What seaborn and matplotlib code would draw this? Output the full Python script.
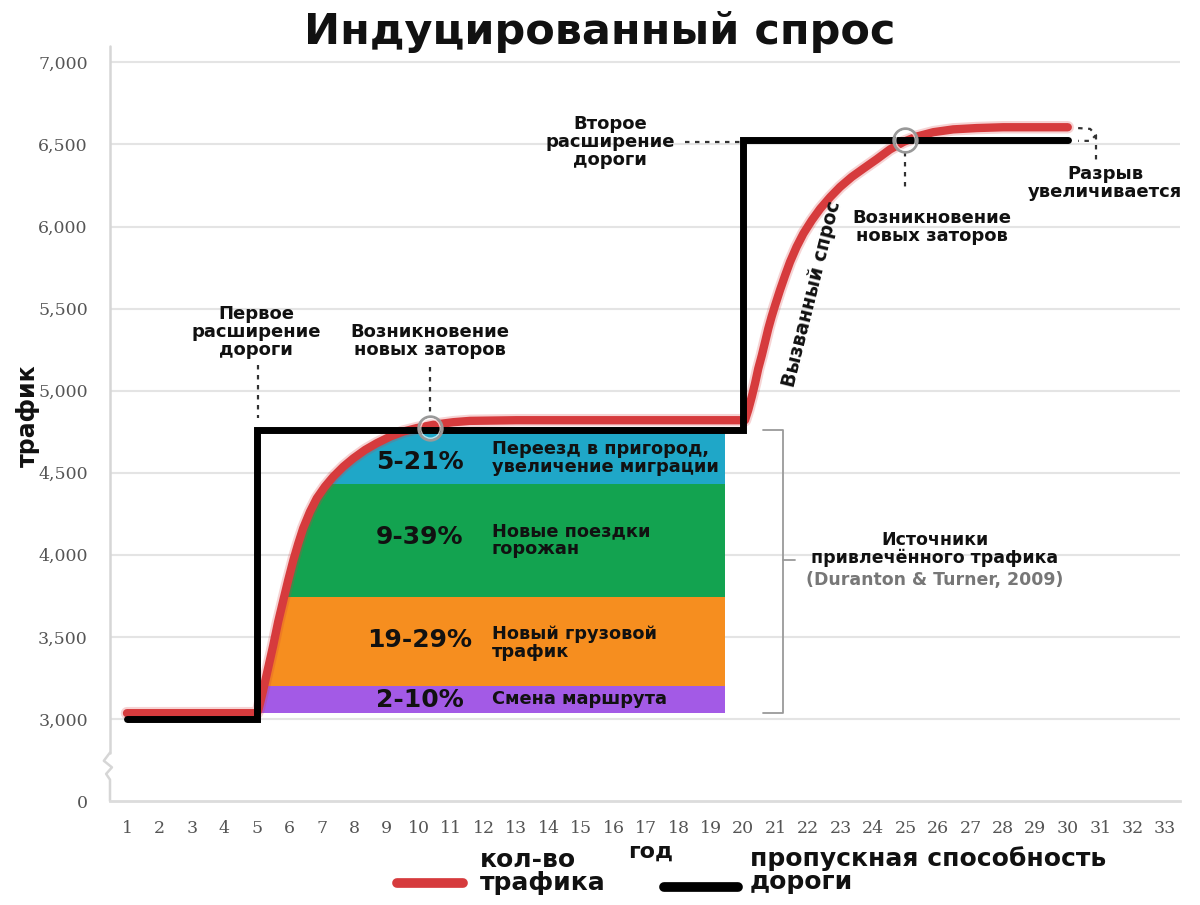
import numpy as np
import pandas as pd
import matplotlib
matplotlib.use("Agg")
import matplotlib.pyplot as plt
import seaborn as sns
from matplotlib.lines import Line2D
from matplotlib.patches import Polygon

# ---------------- data ----------------
traffic_x = [1, 5, 5.05, 5.20, 5.36, 5.51, 5.66, 5.82, 5.97, 6.13, 6.28, 6.43, 6.64, 6.85,
             7.10, 7.36, 7.67, 7.98, 8.34, 8.70, 9.11, 9.52, 9.93, 10.44, 11.06, 11.57,
             13, 20,
             20.05, 20.15, 20.26, 20.36, 20.46, 20.57, 20.67, 20.77, 20.87, 20.98, 21.13,
             21.29, 21.44, 21.64, 21.85, 22.11, 22.37, 22.68, 22.98, 23.34, 23.70, 24.11,
             24.52, 24.93, 25.34, 25.86, 26.47, 27.19, 28.01, 30]
traffic_y = [3035, 3035, 3055, 3177, 3318, 3450, 3592, 3724, 3846, 3968, 4069, 4161, 4262, 4344,
             4415, 4476, 4537, 4588, 4639, 4680, 4720, 4751, 4772, 4792, 4808, 4816,
             4820, 4820,
             4820, 4882, 4963, 5044, 5135, 5216, 5297, 5379, 5450, 5521, 5613,
             5704, 5785, 5876, 5957, 6038, 6109, 6180, 6241, 6302, 6353, 6410,
             6470, 6515, 6548, 6575, 6592, 6600, 6605, 6605]

capacity_x = [1, 5, 5, 20, 20, 30]
capacity_y = [3000, 3000, 4760, 4760, 6525, 6525]

band_lower = [3035, 3200, 3745, 4430]
band_upper = [3200, 3745, 4430, 4780]
band_colors = ["#a35ae6", "#f68e1f", "#13a350", "#1fa7c8"]
band_pct = ["2-10%", "19-29%", "9-39%", "5-21%"]
band_desc = ["Смена маршрута", "Новый грузовой\nтрафик", "Новые поездки\nгорожан",
             "Переезд в пригород,\nувеличение миграции"]
band_x = [5, 19.43]

y_ticks = [2500, 3000, 3500, 4000, 4500, 5000, 5500, 6000, 6500, 7000]
y_ticklabels = ["0", "3,000", "3,500", "4,000", "4,500", "5,000", "5,500", "6,000", "6,500", "7,000"]
x_ticks = list(range(1, 34))

RED = "#d63b3d"
FONT = "DejaVu Sans"

# ---------------- figure ----------------
sns.set_theme(style="white")
plt.rcParams["font.family"] = [FONT]
fig = plt.figure(figsize=(12, 9.05), dpi=100)
ax = fig.add_axes([110/1200, 104/905, 1070/1200, 755/905])
ax.set_xlim(0.476, 33.46)
ax.set_ylim(2500, 7100)

# grid lines
for t in y_ticks[1:]:
    ax.axhline(t, color="#e4e4e4", lw=1.5, zorder=0)

# bands, clipped under the traffic curve
tx = np.array(traffic_x)
ty = np.array(traffic_y)
mask = (tx >= 5) & (tx <= 20)
poly_pts = np.column_stack([tx[mask], ty[mask]])
poly_pts = np.vstack([poly_pts, [[20, 3000], [5, 3000]]])
clip_poly = Polygon(poly_pts, closed=True, transform=ax.transData, facecolor="none", edgecolor="none")
ax.add_patch(clip_poly)
for lo, hi, c in zip(band_lower, band_upper, band_colors):
    coll = ax.fill_between(band_x, [lo, lo], [hi, hi], color=c, lw=0, zorder=1)
    coll.set_clip_path(clip_poly)

# lines
df_t = pd.DataFrame({"x": traffic_x, "y": traffic_y})
df_c = pd.DataFrame({"x": capacity_x, "y": capacity_y})
ax.plot(df_t.x, df_t.y, color=RED, lw=9, alpha=0.22, solid_capstyle="round",
        solid_joinstyle="round", zorder=2)
sns.lineplot(data=df_t, x="x", y="y", ax=ax, color=RED, lw=6, sort=False,
             estimator=None, zorder=3, solid_capstyle="round", solid_joinstyle="round")
sns.lineplot(data=df_c, x="x", y="y", ax=ax, color="black", lw=5, sort=False,
             estimator=None, zorder=4, solid_capstyle="round", solid_joinstyle="miter")

# congestion circles
for cx, cy in [(10.34, 4772), (24.98, 6526)]:
    ax.plot(cx, cy, marker="o", ms=17, mfc="none", mec="#999999", mew=2, zorder=6)
    ax.plot(cx, cy, marker="o", ms=14, mfc="none", mec="white", mew=1, alpha=0.7, zorder=6)

# axes styling
for s in ["top", "right", "left"]:
    ax.spines[s].set_visible(False)
ax.spines["bottom"].set_color("#dcdcdc")
ax.spines["bottom"].set_linewidth(2)
ax.set_yticks(y_ticks)
ax.set_yticklabels(y_ticklabels)
ax.set_xticks(x_ticks)
ax.set_xticklabels([str(v) for v in x_ticks])
ax.tick_params(axis="both", length=0, colors="#555555", labelsize=12.5)
ax.tick_params(axis="x", pad=14)
ax.tick_params(axis="y", pad=16)
for lab in ax.get_xticklabels() + ax.get_yticklabels():
    lab.set_fontfamily("DejaVu Serif")
ax.set_xlabel("")
ax.set_ylabel("")

# left axis with break
spx = 0.476
ax.plot([spx, spx], [2795, 7100], color="#d6d6d6", lw=1.8, clip_on=False, zorder=0)
ax.plot([spx, spx - 0.19, spx + 0.06, spx - 0.12, spx, spx],
        [2795, 2745, 2705, 2665, 2630, 2500], color="#d6d6d6", lw=1.8, clip_on=False, zorder=0)

# band labels
pct_y = [3116, 3481, 4108, 4565]
desc_y = [3122, 3463, 4090, 4589]
for p, d, py, dy in zip(band_pct, band_desc, pct_y, desc_y):
    ax.text(10.03, py, p, ha="center", va="center", fontsize=18, fontweight="bold",
            color="#111111", zorder=7)
    ax.text(12.25, dy, d, ha="left", va="center", fontsize=12.8, fontweight="bold",
            color="#111111", linespacing=1.02, zorder=7)

# bracket
BR = "#9a9a9a"
ax.plot([20.6, 21.22, 21.22, 20.6], [4762, 4762, 3037, 3037], color=BR, lw=1.3, zorder=1)
ax.plot([21.22, 21.59], [3968, 3968], color=BR, lw=1.3, zorder=1)
ax.text(25.9, 4035, "Источники\nпривлечённого трафика", ha="center", va="center",
        fontsize=12.5, fontweight="bold", color="#111111", linespacing=1.0)
ax.text(25.9, 3847, "(Duranton & Turner, 2009)", ha="center", va="center",
        fontsize=12.5, fontweight="bold", color="#777777")

# annotations
DOT = dict(color="#333333", lw=1.6, ls=(0, (2, 2.5)), zorder=5)
ax.text(4.98, 5357, "Первое\nрасширение\nдороги", ha="center", va="center",
        fontsize=13, fontweight="bold", color="#111111", linespacing=1.0)
ax.plot([5.04, 5.04], [5156, 4833], **DOT)
ax.text(10.34, 5302, "Возникновение\nновых заторов", ha="center", va="center",
        fontsize=13, fontweight="bold", color="#111111", linespacing=1.0)
ax.plot([10.34, 10.34], [5144, 4850], **DOT)
ax.text(15.89, 6514, "Второе\nрасширение\nдороги", ha="center", va="center",
        fontsize=13, fontweight="bold", color="#111111", linespacing=1.0)
ax.plot([18.2, 19.9], [6514, 6514], **DOT)
ax.text(22.1, 5590, "Вызванный спрос", ha="center", va="center", rotation=76,
        fontsize=13.5, fontweight="bold", color="#111111")
ax.plot([24.98, 24.98], [6453, 6210], **DOT)
ax.text(25.8, 5996, "Возникновение\nновых заторов", ha="center", va="center",
        fontsize=13, fontweight="bold", color="#111111", linespacing=1.0)
ax.plot([30.32, 30.69, 30.87, 30.69, 30.32], [6600, 6595, 6557, 6522, 6522], **DOT)
ax.plot([30.87, 30.87], [6557, 6404], **DOT)
ax.text(31.15, 6265, "Разрыв\nувеличивается", ha="center", va="center",
        fontsize=13, fontweight="bold", color="#111111", linespacing=1.0)

# title & axis labels
fig.text(0.5, 0.965, "Индуцированный спрос", ha="center", va="center",
         fontsize=31, fontweight="bold", color="#111111")
fig.text(0.023, 0.541, "трафик", ha="center", va="center", rotation=90,
         fontsize=17, fontweight="bold", color="#111111")
fig.text(0.542, 0.0586, "год", ha="center", va="center",
         fontsize=16, fontweight="bold", color="#111111")

# legend
fig.add_artist(Line2D([0.331, 0.386], [0.0243, 0.0243], color=RED, lw=7,
                      solid_capstyle="round", transform=fig.transFigure))
fig.text(0.4, 0.0365, "кол-во\nтрафика", ha="left", va="center",
         fontsize=18, fontweight="bold", color="#111111", linespacing=0.95)
fig.add_artist(Line2D([0.553, 0.615], [0.020, 0.020], color="black", lw=7,
                      solid_capstyle="round", transform=fig.transFigure))
fig.text(0.625, 0.0387, "пропускная способность\nдороги", ha="left", va="center",
         fontsize=18, fontweight="bold", color="#111111", linespacing=0.95)

fig.savefig("out.png", dpi=100)
